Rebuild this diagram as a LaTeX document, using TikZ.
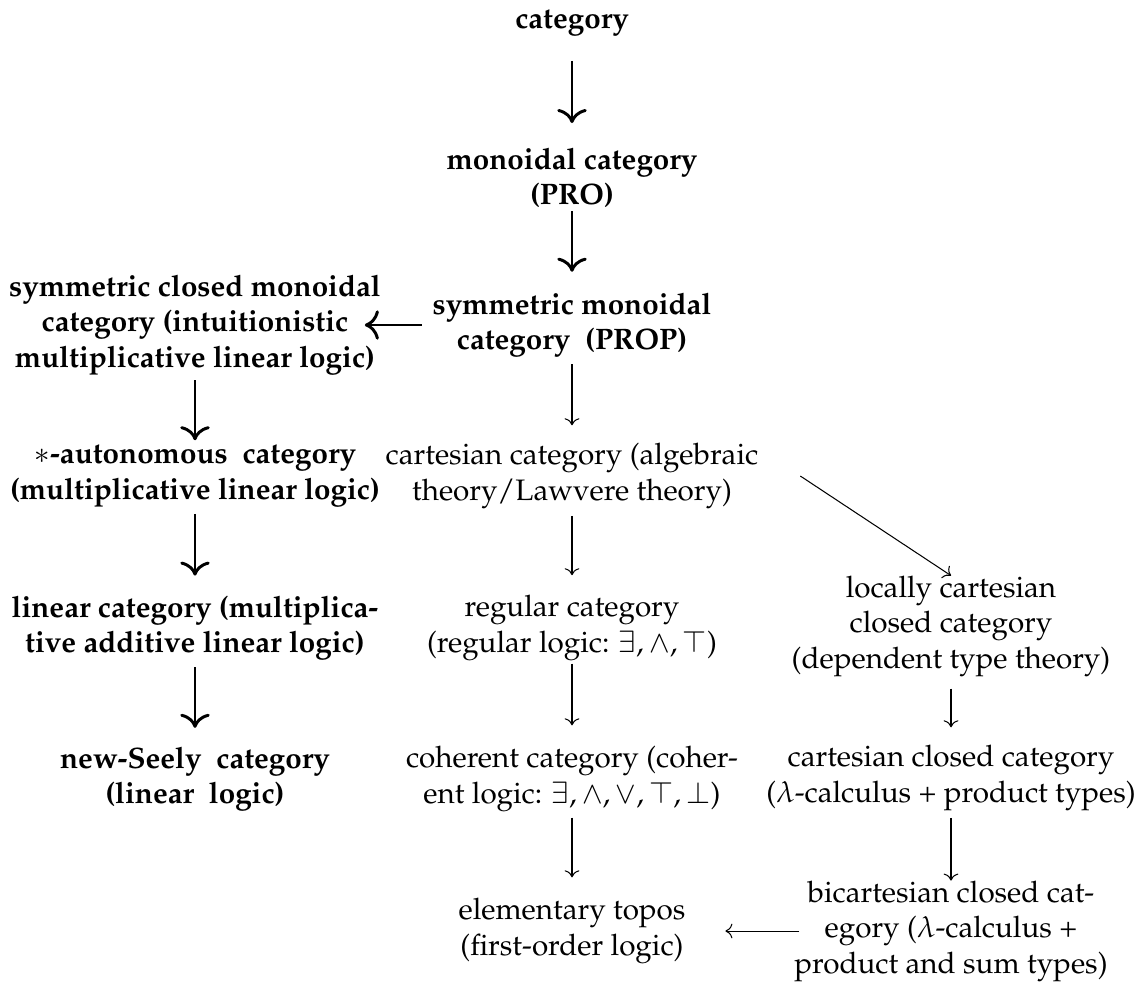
\documentclass[tikz,border=0pt]{standalone}
\usepackage[T1]{fontenc}
\usepackage{mathpazo}
\usetikzlibrary{arrows.meta}
\tikzset{
  plain/.style={align=center, inner sep=0pt, outer sep=0pt},
  strong/.style={plain, font=\bfseries},
  thin arr/.style={-{To}, line width=0.35pt},
  thick arr/.style={-{To[scale=1.25]}, line width=1pt},
}
\begin{document}
\begin{tikzpicture}[x=0.3378pt, y=-0.3378pt]
  \useasboundingbox (0,0) rectangle (1140,983);
  % linear logic branch (bold)
  \node[strong] (cat)   at (572,23)  {category};
  \node[strong] (mon)   at (572,178) {monoidal category\\(PRO)};
  \node[strong] (sym)   at (572,325) {symmetric monoidal\\category\ \ (PROP)};
  \node[strong] (smc)   at (195,325) {symmetric closed monoidal\\category (intuitionistic\\multiplicative linear logic)};
  \node[strong] (star)  at (195,476) {$\ast$-autonomous\ \ category\\(multiplicative linear logic)};
  \node[strong] (lin)   at (195,628) {linear category (multiplica-\\tive additive linear logic)};
  \node[strong] (seely) at (195,779) {new-Seely\ \ category\\(linear\ \ logic)};
  % cartesian branch
  \node[plain] (cart)  at (572,476) {cartesian category (algebraic\\theory/Lawvere theory)};
  \node[plain] (reg)   at (572,628) {regular category\\(regular logic: $\exists, \wedge, \top$)};
  \node[plain] (coh)   at (572,779) {coherent category (coher-\\ent logic: $\exists, \wedge, \vee, \top, \bot$)};
  \node[plain] (topos) at (572,931) {elementary topos\\(first-order logic)};
  \node[plain] (lcc)   at (951,626) {locally cartesian\\closed category\\(dependent type theory)};
  \node[plain] (ccc)   at (951,778) {cartesian closed category\\($\lambda$-calculus + product types)};
  \node[plain] (bcc)   at (951,931) {bicartesian closed cat-\\egory ($\lambda$-calculus +\\product and sum types)};

  \draw[thick arr, shorten <=8.4pt, shorten >=8.4pt] (cat) -- (mon);
  \draw[thick arr, shorten <=1pt, shorten >=7.1pt] (mon) -- (sym);
  \draw[thick arr, shorten <=3.7pt, shorten >=-5.4pt] (sym) -- (smc);
  \draw[thick arr, shorten <=1.7pt, shorten >=1.7pt] (smc) -- (star);
  \draw[thick arr, shorten <=2.4pt, shorten >=6.8pt] (star) -- (lin);
  \draw[thick arr, shorten <=2.4pt, shorten >=6.4pt] (lin) -- (seely);

  \draw[thin arr, shorten <=2.4pt, shorten >=6.1pt] (sym) -- (cart);
  \draw[thin arr, shorten <=2.4pt, shorten >=6.8pt] (cart) -- (reg);
  \draw[thin arr, shorten <=1pt, shorten >=7.1pt] (reg) -- (coh);
  \draw[thin arr, shorten <=2pt, shorten >=7.1pt] (coh) -- (topos);
  \draw[thin arr] ([xshift=14.2pt]cart.east) -- (lcc.north);
  \draw[thin arr, shorten <=4.1pt, shorten >=6.1pt] (lcc) -- (ccc);
  \draw[thin arr, shorten <=2.4pt] (ccc) -- (bcc);
  \draw[thin arr, shorten <=-1.7pt, shorten >=13.5pt] (bcc) -- (topos);
\end{tikzpicture}
\end{document}
